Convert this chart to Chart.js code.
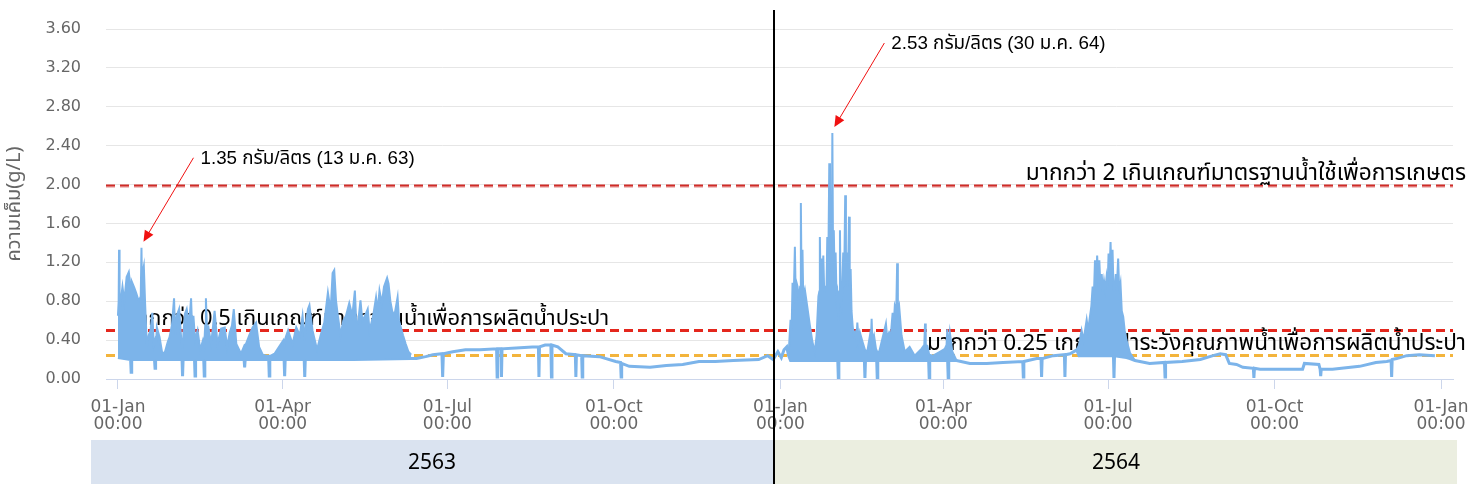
<!DOCTYPE html>
<html>
<head>
<meta charset="utf-8">
<style>
  html, body { margin: 0; padding: 0; background: #fff; }
  #wrap { position: relative; width: 1472px; height: 488px; }
</style>
</head>
<body>
<div id="wrap"><canvas id="salinityChart" width="1472" height="488"></canvas></div>
<script src="https://cdn.jsdelivr.net/npm/chart.js@4.4.1/dist/chart.umd.min.js"></script>
<script>
// day 0 = 01 Jan 2020 (2563), day 366 = 01 Jan 2021 (2564)

// lower edge of the salinity trace (g/L), incl. the short drop-outs
const baseDays = [
  // 2563 Jan-Jun
  0, 7.0, 7.3, 7.6, 20.2, 20.5, 20.8, 35.4, 35.7, 36.0,
  42.3, 42.6, 42.9, 47.4, 47.7, 48.0, 69.7, 70.0, 70.3, 83.3,
  83.6, 83.9, 91.8, 92.1, 92.4, 102.9, 103.2, 103.5, 130, 162,
  // 2563 Jun-Dec
  165, 170, 174, 179.0, 179.4, 179.8, 185, 192, 200, 209.2,
  209.5, 209.8, 211.6, 211.9, 212.2, 220, 229, 232.3, 232.6, 232.9,
  236, 239.2, 239.5, 239.8, 243, 247.5, 252.7, 253.0, 253.3, 256.2,
  256.5, 256.8, 266, 275, 277.7, 278.0, 278.3, 282.5, 294, 303,
  312, 321, 330, 340, 354, 359, 362, 364.6, 366.5, 368,
  369.5, 370.5,
  // 2564 Jan-Mar
  371.6, 397.7, 398.0, 398.3, 412.4, 412.7, 413.0, 419.2, 419.5, 419.8,
  447.9, 448.2, 448.5, 458.4, 458.7, 459.0, 463.3,
  // 2564 Mar-Jun
  470.7, 480, 489, 499.9, 500.2, 500.5, 507.6, 510.0, 510.3, 510.6,
  516.8, 522.9, 523.2, 523.5, 526.0, 529.7,
  // 2564 Jun-Jul
  531.0, 550.0, 550.3, 550.6, 557.2, 559.1, 561.9,
  // 2564 Aug-Dec
  570, 578.2, 578.5, 578.8, 588, 598, 605, 609, 612, 614,
  618, 621.5, 627.3, 627.6, 627.9, 631, 643.6, 654.5, 655.5, 663.5,
  664.2, 664.5, 664.8, 671, 686, 695, 701, 703.4, 703.7, 704.0,
  706.5, 712, 719, 727.6
];
const baseVals = [
  .22, .20, .07, .20, .20, .11, .20, .20, .03, .20,
  .20, .03, .20, .20, .03, .20, .20, .12, .20, .20,
  .03, .20, .20, .03, .20, .20, .02, .20, .20, .21,

  .21, .23, .25, .26, .02, .26, .28, .30, .30, .31,
  .02, .31, .31, .02, .31, .32, .33, .33, .02, .33,
  .35, .35, .02, .35, .33, .26, .25, .02, .25, .24,
  .02, .24, .23, .18, .17, .02, .16, .13, .12, .14,
  .15, .18, .18, .19, .20, .24, .20, .28, .22, .30,
  .33, .24,

  .19, .19, .01, .19, .19, .01, .19, .19, .01, .19,
  .19, .01, .19, .19, .01, .19, .19,

  .16, .16, .17, .18, .02, .18, .21, .21, .02, .21,
  .24, .25, .02, .25, .26, .30,

  .24, .24, .01, .24, .22, .21, .19,

  .16, .17, .02, .17, .18, .20, .24, .26, .25, .16,
  .15, .12, .11, .01, .11, .10, .10, .10, .16, .15,
  .10, .03, .10, .10, .13, .17, .18, .19, .02, .20,
  .21, .24, .25, .24
];

// upper edge of the tidal swings in the salty spells (null = break)
const peakDays = [
  // 2563 Jan-Jun
  0, 0.4, 0.6, 0.9, 1.2, 2.5, 3.5, 4.8, 6.0, 6.9,
  7.3, 7.7, 9.0, 10.0, 11.5, 12.6, 13.0, 13.3, 13.7, 14.3,
  15.0, 16.0, 17.0, 18.0, 19.0, 19.8, 20.5, 21.0, 21.5, 23.0,
  24.5, 26.0, 27.5, 28.5, 29.8, 31.0, 31.6, 32.5, 33.8, 35.0,
  35.7, 36.3, 37.0, 38.0, 39.3, 40.4, 41.0, 41.7, 42.6, 43.3,
  44.0, 45.5, 47.0, 47.7, 48.2, 48.6, 49.2, 50.0, 51.5, 53.4,
  55.0, 57.0, 59.0, 60.3, 61.8, 63.0, 64.0, 65.4, 68.0, 70.0,
  70.7, 72.6, 74.4, 76.3, 78.0, 80.0, 82.0, 83.6, 84.4, 86.5,
  89.0, 91.5, 92.1, 92.7, 94.0, 96.5, 98.5, 100.5, 102.0, 103.2,
  104.0, 105.0, 105.8, 107.5, 110.0, 112.0, 114.0, 116.0, 117.5, 118.6,
  119.5, 120.5, 121.5, 123.0, 124.5, 126.0, 127.8, 129.5, 130.9, 131.6,
  132.7, 134.0, 135.0, 136.5, 138.0, 139.0, 141.0, 142.6, 143.5, 144.5,
  145.8, 147.0, 148.7, 149.5, 150.5, 151.5, 152.7, 154.5, 155.3, 156.0,
  157.5, 159.0, 160.5, 162.0, 163,
  // 2564 Jan-Mar
  370.5, 371.6, 372.2, 372.7, 373.2, 374.0, 374.4, 374.8, 375.5, 376.1,
  376.9, 377.3, 377.7, 378.2, 378.6, 379.5, 380.8, 382.3, 383.7, 385.0,
  386.0, 387.0, 387.5, 387.8, 388.2, 388.7, 389.2, 389.7, 390.2, 390.6,
  391.5, 391.9, 392.4, 393.0, 393.4, 393.9, 394.3, 394.7, 395.1, 395.5,
  396.0, 396.5, 397.0, 397.4, 398.0, 398.5, 398.9, 399.3, 399.8, 400.3,
  400.7, 401.2, 401.8, 402.2, 402.5, 403.0, 403.5, 403.9, 404.3, 404.8,
  405.3, 405.9, 406.5, 407.2, 408.0, 408.5, 409.2, 409.9, 411.4, 412.7,
  414.0, 415.5, 416.0, 416.4, 416.8, 417.7, 418.8, 419.5, 420.6, 422.8,
  424.3, 425.0, 426.1, 427.0, 428.0, 428.6, 429.2, 430.0, 430.5, 430.9,
  431.6, 432.9, 434.7, 437.4, 440.2, 443.9, 445.5, 445.9, 446.3, 447.2,
  448.2, 450.4, 454.1, 456.8, 457.8, 458.2, 458.7, 459.6, 461.0, 463.3,
  464,
  // 2564 Jun-Jul
  529.7, 531.0, 532.4, 533.5, 535.2, 536.0, 537.0, 537.8, 538.5, 539.2,
  539.8, 540.4, 541.0, 541.6, 542.2, 542.8, 543.5, 544.2, 544.8, 545.5,
  546.2, 546.8, 547.3, 547.8, 548.4, 548.9, 549.5, 550.0, 550.3, 550.8,
  551.3, 551.9, 552.6, 553.2, 553.9, 554.6, 555.4, 556.2, 557.2, 559.1,
  561.9
];
const peakVals = [
  .65, .80, 1.33, .75, .75, .95, .80, 1.05, 1.10, .95,
  .90, 1.00, .94, .89, .80, .85, 1.35, .90, 1.10, 1.16,
  .78, .33, .45, .50, .68, .35, .40, .35, .53, .43,
  .26, .28, .38, .43, .55, .83, .45, .65, .72, .40,
  .30, .50, .67, .72, .55, .83, .50, .65, .40, .45,
  .50, .30, .40, .35, .55, .83, .50, .53, .36, .70,
  .36, .52, .53, .33, .48, .55, .72, .36, .26, .35,
  .36, .45, .53, .58, .33, .25, .24, .24, .24, .26,
  .33, .40, .35, .43, .50, .36, .53, .45, .65, .40,
  .60, .72, .76, .50, .30, .45, .58, .89, .70, 1.09,
  1.12, .80, .65, .45, .60, .65, .78, .65, .91, .60,
  .58, .81, .60, .65, .72, .50, .65, .84, .70, .91,
  .78, .95, 1.04, .98, .80, .70, .65, .84, .60, .55,
  .45, .36, .28, .25, null,

  .24, .61, .50, .99, .70, 1.36, .90, 1.00, .95, .80,
  .95, 1.81, .95, 1.33, .85, .92, .75, .55, .38, .28,
  .45, .85, .90, 1.46, .95, 1.24, .95, 1.27, .90, .95,
  .95, 1.46, 1.00, 2.22, 1.20, 1.80, 1.10, 2.53, 1.20, 1.53,
  1.00, 1.30, .85, .89, .60, .90, 1.53, .80, .75, 1.00,
  1.30, .95, 1.89, 1.00, 1.30, .95, 1.20, 1.67, .95, 1.13,
  .70, .55, .45, .48, .40, .58, .40, .48, .38, .30,
  .28, .45, .40, .62, .40, .45, .31, .28, .28, .45,
  .57, .42, .48, .45, .68, .55, .75, .70, 1.19, .70,
  .75, .45, .28, .33, .24, .31, .35, .57, .35, .34,
  .25, .24, .28, .31, .35, .51, .30, .48, .28, .19,
  null,

  .30, .35, .50, .40, .61, .50, .64, .75, .95, .85,
  1.22, .95, 1.27, 1.00, 1.22, .95, 1.08, .90, 1.01, .92,
  1.05, .95, 1.29, 1.05, 1.41, 1.10, 1.33, .95, .90, .95,
  1.08, .95, 1.24, .90, .98, .70, .64, .50, .40, .27,
  .19
];

const tickDays = [0, 91, 182, 274, 366, 456, 547, 639, 731];
const tickNames = ['01-Jan', '01-Apr', '01-Jul', '01-Oct', '01-Jan', '01-Apr', '01-Jul', '01-Oct', '01-Jan'];
const tickTimes = ['00:00', '00:00', '00:00', '00:00', '00:00', '00:00', '00:00', '00:00', '00:00'];
const yTickVals = [0, 0.4, 0.8, 1.2, 1.6, 2.0, 2.4, 2.8, 3.2, 3.6];

const limitVals = [2, 0.5, 0.25];
const limitLabels = [
  'มากกว่า 2 เกินเกณฑ์มาตรฐานน้ำใช้เพื่อการเกษตร',
  'มากกว่า 0.5 เกินเกณฑ์มาตรฐานน้ำเพื่อการผลิตน้ำประปา',
  'มากกว่า 0.25 เกณฑ์เฝ้าระวังคุณภาพน้ำเพื่อการผลิตน้ำประปา'
];
const limitColors = ['#d02b27', '#e4271d', '#f3b43c'];

const calloutDays = [13.0, 394.7];
const calloutVals = [1.35, 2.53];
const calloutTexts = ['1.35 กรัม/ลิตร (13 ม.ค. 63)', '2.53 กรัม/ลิตร (30 ม.ค. 64)'];

const yearNames = ['2563', '2564'];
const yearSplitDay = 362;

const thaiFont = "'Noto Sans Thai', 'Noto Sans Thai UI', 'Loma', 'Garuda', 'Tahoma', sans-serif";
const lineBlue = '#7cb4ea';

// pick a font size so the text spans the given width
function fitFont(ctx, text, width, family, weight) {
  ctx.font = weight + ' 20px ' + family;
  const size = 20 * width / ctx.measureText(text).width;
  ctx.font = weight + ' ' + size.toFixed(1) + 'px ' + family;
}

const extras = {
  id: 'extras',
  beforeDatasetsDraw(chart) {
    const { ctx, chartArea: area, scales: { y } } = chart;
    ctx.save();
    limitVals.forEach((v, i) => {
      const py = Math.round(y.getPixelForValue(v)) + 0.5;
      ctx.setLineDash([9, 5]);
      if (i === 0) {
        ctx.strokeStyle = 'rgba(210,60,60,0.3)';
        ctx.lineWidth = 2;
        ctx.beginPath(); ctx.moveTo(area.left, py + 1.5); ctx.lineTo(area.right, py + 1.5); ctx.stroke();
      }
      ctx.strokeStyle = limitColors[i];
      ctx.lineWidth = i === 0 ? 2 : 3;
      ctx.beginPath(); ctx.moveTo(area.left, py); ctx.lineTo(area.right, py); ctx.stroke();
    });
    ctx.setLineDash([]);
    ctx.fillStyle = '#000';
    ctx.textBaseline = 'alphabetic';
    const widths = [441, 484, 540];
    limitLabels.forEach((t, i) => {
      const py = y.getPixelForValue(limitVals[i]) - 5;
      fitFont(ctx, t, widths[i], thaiFont, 'normal');
      if (i === 1) {
        ctx.textAlign = 'left';
        ctx.fillText(t, area.left + 20, py);
      } else {
        ctx.textAlign = 'right';
        ctx.fillText(t, area.right + 13, py);
      }
    });
    ctx.restore();
  },
  afterDatasetsDraw(chart) {
    const { ctx, scales: { x, y } } = chart;
    ctx.save();
    calloutDays.forEach((d, i) => {
      const tx = x.getPixelForValue(d) + 2;
      const ty = y.getPixelForValue(calloutVals[i]) - 6;
      const sx = tx + 50, sy = ty - 84;
      const ang = Math.atan2(ty - sy, tx - sx);
      ctx.strokeStyle = '#f01010';
      ctx.fillStyle = '#f01010';
      ctx.lineWidth = 1;
      ctx.beginPath(); ctx.moveTo(sx, sy); ctx.lineTo(tx - 9 * Math.cos(ang), ty - 9 * Math.sin(ang)); ctx.stroke();
      ctx.beginPath();
      ctx.moveTo(tx, ty);
      ctx.lineTo(tx - 11 * Math.cos(ang) + 5 * Math.sin(ang), ty - 11 * Math.sin(ang) - 5 * Math.cos(ang));
      ctx.lineTo(tx - 11 * Math.cos(ang) - 5 * Math.sin(ang), ty - 11 * Math.sin(ang) + 5 * Math.cos(ang));
      ctx.closePath(); ctx.fill();
      ctx.fillStyle = '#000';
      fitFont(ctx, calloutTexts[i], 215, "'Liberation Sans', " + thaiFont, 'normal');
      ctx.textAlign = 'left';
      ctx.textBaseline = 'middle';
      ctx.fillText(calloutTexts[i], sx + 7, sy + 1);
    });
    ctx.restore();
  },
  afterDraw(chart) {
    const { ctx, scales: { x } } = chart;
    const splitX = Math.round(x.getPixelForValue(yearSplitDay));
    const boxes = [[91, splitX, '#dae3f0'], [splitX + 2, 1457, '#ebeee0']];
    ctx.save();
    boxes.forEach((b, i) => {
      ctx.fillStyle = b[2];
      ctx.fillRect(b[0], 440, b[1] - b[0], 44);
      ctx.fillStyle = '#000';
      ctx.font = "21px 'Noto Sans', sans-serif";
      ctx.textAlign = 'center';
      ctx.textBaseline = 'middle';
      ctx.fillText(yearNames[i], (b[0] + b[1]) / 2, 463);
    });
    ctx.fillStyle = '#000';
    ctx.fillRect(splitX, 10, 2, 474);
    ctx.restore();
  }
};

new Chart(document.getElementById('salinityChart'), {
  type: 'line',
  data: {
    datasets: [
      {
        label: 'peak',
        data: peakDays.map((d, i) => ({ x: d, y: peakVals[i] })),
        borderColor: lineBlue,
        backgroundColor: lineBlue,
        borderWidth: 2,
        pointRadius: 0,
        fill: '+1',
        spanGaps: false
      },
      {
        label: 'ความเค็ม',
        data: baseDays.map((d, i) => ({ x: d, y: baseVals[i] })),
        borderColor: lineBlue,
        borderWidth: 3,
        pointRadius: 0,
        fill: false
      }
    ]
  },
  options: {
    responsive: false,
    animation: false,
    devicePixelRatio: 1,
    layout: { padding: { top: 29, right: 19, bottom: 0, left: 0 } },
    plugins: { legend: { display: false }, tooltip: { enabled: false } },
    scales: {
      x: {
        type: 'linear',
        min: -6.6,
        max: 737.6,
        afterBuildTicks: (axis) => { axis.ticks = tickDays.map(v => ({ value: v })); },
        afterFit: (axis) => {
          axis.height = 109;
          axis.paddingLeft = 0; axis.paddingRight = 0; axis.paddingTop = 0; axis.paddingBottom = 0;
        },
        grid: { drawOnChartArea: false, drawTicks: true, tickLength: 10, color: '#ccd6eb' },
        border: { color: '#ccd6eb', width: 1 },
        ticks: {
          autoSkip: false,
          maxRotation: 0,
          padding: 10,
          color: '#666',
          font: { family: "'DejaVu Sans'", size: 17, lineHeight: 1.0 },
          callback: (v, i) => [tickNames[i], tickTimes[i]]
        }
      },
      y: {
        min: 0,
        max: 3.6,
        afterBuildTicks: (axis) => { axis.ticks = yTickVals.map(v => ({ value: v })); },
        afterFit: (axis) => {
          axis.width = 106;
          axis.paddingTop = 0; axis.paddingBottom = 0; axis.paddingLeft = 0; axis.paddingRight = 0;
        },
        grid: { color: '#e6e6e6', drawTicks: false },
        border: { display: false },
        ticks: {
          padding: 25,
          color: '#666',
          font: { family: "'DejaVu Sans'", size: 16 },
          callback: (v) => Number(v).toFixed(2)
        },
        title: {
          display: true,
          text: 'ความเค็ม(g/L)',
          color: '#666',
          padding: { top: 4, bottom: 0 },
          font: { family: thaiFont, size: 20 }
        }
      }
    }
  },
  plugins: [extras]
});
</script>
</body>
</html>
